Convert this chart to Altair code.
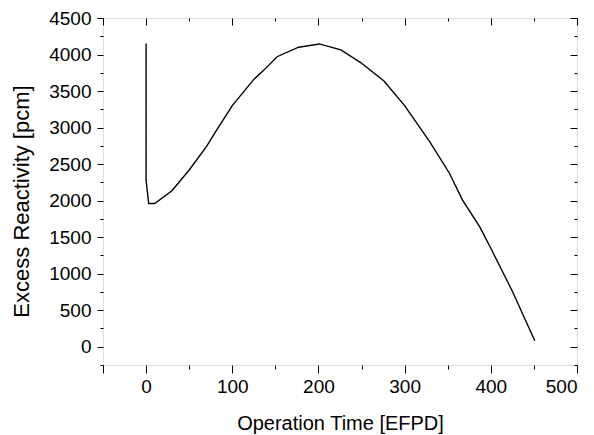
import altair as alt
import pandas as pd

# Data
days = [0, 0, 3, 10, 30, 50, 70, 82, 100, 125, 137, 152, 177, 201, 226, 249, 276, 300, 329, 352, 367, 387, 400, 425, 451]
reactivity = [4150, 2280, 1960, 1960, 2135, 2420, 2740, 2970, 3300, 3660, 3790, 3970, 4100, 4145, 4064, 3890, 3637, 3300, 2808, 2375, 2010, 1644, 1348, 760, 82]

x_major = [-50, 0, 100, 200, 300, 400, 500]
x_minor = [50, 150, 250, 350, 450]
y_major = [0, 500, 1000, 1500, 2000, 2500, 3000, 3500, 4000, 4500]
y_minor = [-250, 250, 750, 1250, 1750, 2250, 2750, 3250, 3750, 4250]
x_labels = [0, 100, 200, 300, 400, 500]

df = pd.DataFrame({"t": days, "r": reactivity, "order": list(range(len(days)))})

FONT = "Liberation Sans"
xs = alt.Scale(domain=[-50, 500], nice=False, zero=False)
ys = alt.Scale(domain=[-250, 4500], nice=False, zero=False)

common = dict(grid=False, domain=False, labelFont=FONT, titleFont=FONT,
              tickColor="black", tickWidth=1, labelColor="black", titleColor="black")

label_expr = "indexof([" + ",".join(str(v) for v in x_labels) + "], datum.value) >= 0 ? datum.label : ''"

main = alt.Chart(df).mark_line(color="black", strokeWidth=1.4).encode(
    x=alt.X("t:Q", scale=xs, axis=alt.Axis(
        orient="bottom", values=x_major, tickSize=8, labelFontSize=19, labelPadding=4,
        labelExpr=label_expr, format="d", title="Operation Time [EFPD]", titleFontSize=20,
        titleFontWeight="normal", titleY=64, titleBaseline="alphabetic", **common)),
    y=alt.Y("r:Q", scale=ys, axis=alt.Axis(
        orient="left", values=y_major, tickSize=6, labelFontSize=19, labelPadding=6,
        format="d", title="Excess Reactivity [pcm]", titleFontSize=22, titleFontWeight="normal",
        titleX=-75, titleY=183, titleBaseline="alphabetic", titleAngle=270, **common)),
    order="order:Q",
)

def ghost(xaxis, yaxis):
    return alt.Chart(df).mark_line(opacity=0).encode(
        x=alt.X("t:Q", scale=xs, axis=xaxis),
        y=alt.Y("r:Q", scale=ys, axis=yaxis),
        order="order:Q",
    )

minor_out = ghost(
    alt.Axis(orient="bottom", values=x_minor, tickSize=4, labels=False, title=None, **common),
    alt.Axis(orient="left", values=y_minor, tickSize=3, labels=False, title=None, **common),
)
major_in = ghost(
    alt.Axis(orient="top", values=x_major, tickSize=7, offset=-7, labels=False, title=None, **common),
    alt.Axis(orient="right", values=y_major, tickSize=7, offset=-7, labels=False, title=None, **common),
)
minor_in = ghost(
    alt.Axis(orient="top", values=x_minor, tickSize=3, offset=-3, labels=False, title=None, **common),
    alt.Axis(orient="right", values=y_minor, tickSize=3, offset=-3, labels=False, title=None, **common),
)

chart = alt.layer(main, minor_out, major_in, minor_in).resolve_scale(
    x="shared", y="shared"
).resolve_axis(
    x="independent", y="independent"
).properties(
    width=474, height=347,
    autosize=alt.AutoSizeParams(type="none"),
    padding={"left": 103, "top": 18, "right": 17, "bottom": 70},
).configure_view(
    stroke="black", strokeWidth=1.5
).configure(background="white")

chart.save("out.html", embed_options={"renderer": "svg", "actions": False})
